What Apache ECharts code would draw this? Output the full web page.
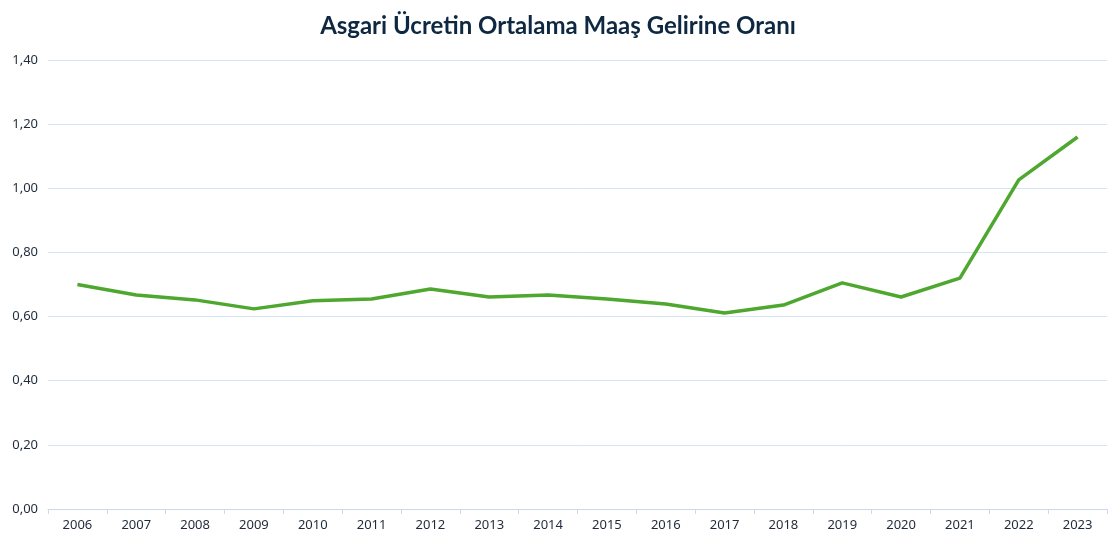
<!DOCTYPE html>
<html><head><meta charset="utf-8">
<script src="https://cdn.jsdelivr.net/npm/echarts@6/dist/echarts.min.js"></script>
<style>html,body{margin:0;padding:0;background:#fff}#c{width:1116px;height:545px}</style>
</head><body><div id="c"></div>
<script>
const years = ['2006','2007','2008','2009','2010','2011','2012','2013','2014','2015','2016','2017','2018','2019','2020','2021','2022','2023'];
const ratio = [0.70,0.667,0.652,0.624,0.649,0.655,0.686,0.661,0.667,0.655,0.639,0.611,0.636,0.705,0.661,0.720,1.026,1.160];
const titleText = 'Asgari Ücretin Ortalama Maaş Gelirine Oranı';
const chart = echarts.init(document.getElementById('c'));
chart.setOption({
  animation:false,
  title:{text:titleText,left:'center',top:9,textStyle:{fontFamily:'Lato',fontWeight:'bold',fontSize:24,color:'#0e2841'}},
  grid:{left:48,right:9,top:60,bottom:36},
  xAxis:{type:'category',data:years,boundaryGap:true,
    axisLine:{lineStyle:{color:'#c9d9ee',width:1}},
    axisTick:{show:true,length:5,lineStyle:{color:'#c9d9ee'}},
    axisLabel:{color:'#1f2a3a',fontSize:13,fontFamily:'Noto Sans',margin:10}},
  yAxis:{type:'value',min:0,max:1.4,interval:0.2,
    axisLine:{show:false},axisTick:{show:false},
    splitLine:{lineStyle:{color:'#d6e3f3',width:1}},
    axisLabel:{color:'#1f2a3a',fontSize:13,fontFamily:'Noto Sans',margin:10,
      formatter:v=>v.toFixed(2).replace('.',',')}},
  series:[{type:'line',data:ratio,symbol:'none',lineStyle:{color:'#4ea72e',width:3.5}}]
});
</script></body></html>
